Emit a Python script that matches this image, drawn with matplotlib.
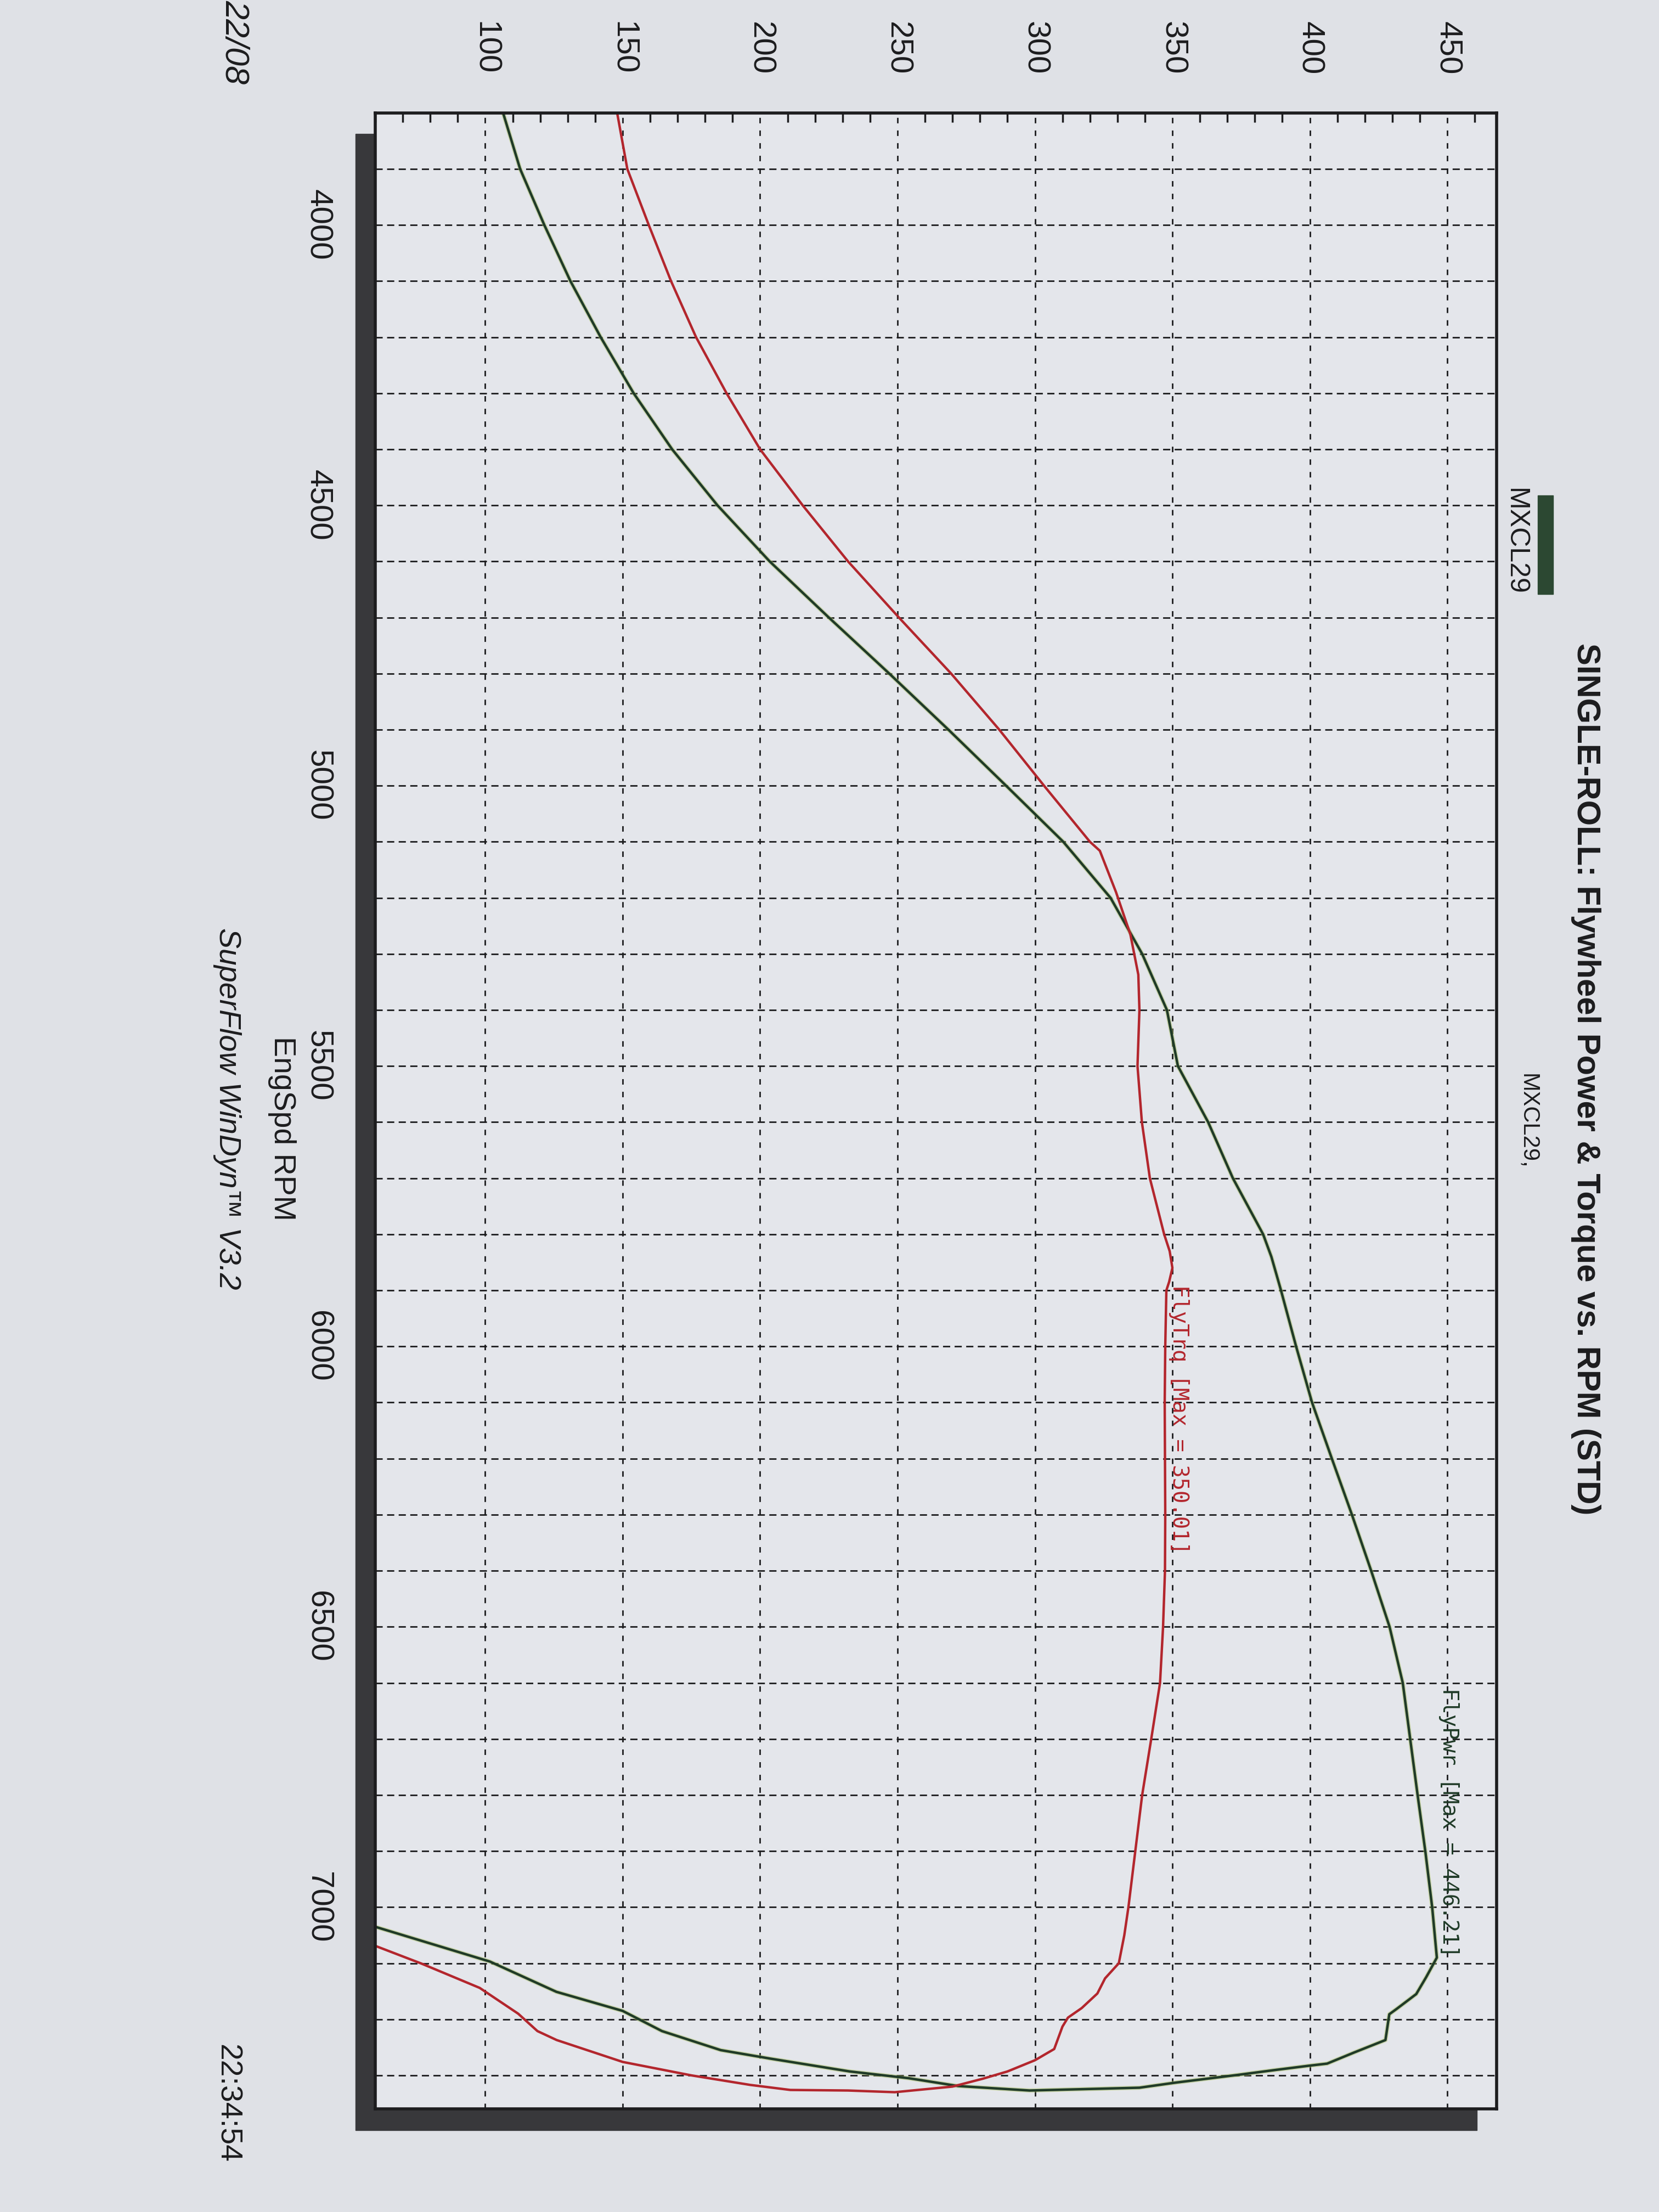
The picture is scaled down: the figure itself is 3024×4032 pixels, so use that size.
import matplotlib
matplotlib.use("Agg")
import matplotlib.pyplot as plt
from matplotlib.patches import Rectangle
from matplotlib.ticker import MultipleLocator

plt.rcParams["font.family"] = ["Liberation Sans", "DejaVu Sans"]

# Flywheel power (hp) trace; the tail is the coast-down hook
pwr_rpm = [3800, 3900, 4000, 4100, 4200, 4300, 4400, 4500, 4600, 4700, 4800, 4900,
           5000, 5100, 5200, 5300, 5400, 5500, 5600, 5700, 5800, 5840, 5900, 6000,
           6100, 6200, 6300, 6400, 6500, 6600, 6700, 6800, 6900, 7000, 7090,
           7125, 7155, 7181, 7191, 7237, 7259, 7279, 7283, 7290, 7299, 7313, 7322,
           7327, 7319, 7305, 7293, 7270, 7255, 7221, 7185, 7151, 7097, 7035]
pwr_hp = [106.5, 112.7, 121.5, 131.0, 142.0, 154.0, 168.0, 184.5, 203.5, 225.0, 247.0, 268.5,
          289.5, 310.3, 327.5, 339.0, 348.0, 352.0, 363.0, 372.0, 383.0, 386.0, 389.5, 395.0,
          400.8, 408.0, 415.3, 422.3, 429.0, 433.8, 436.5, 439.2, 442.0, 444.5, 446.2,
          442.3, 438.7, 431.7, 428.9, 427.5, 416.2, 406.3, 399.3, 388.0, 374.0, 351.0, 338.0,
          298.0, 272.0, 254.0, 232.6, 203.6, 185.7, 164.3, 150.0, 125.9, 101.7, 60.0]

# Flywheel torque (lb-ft) trace
trq_rpm = [3800, 3900, 4000, 4100, 4200, 4300, 4400, 4500, 4600, 4700, 4800, 4900,
           5000, 5100, 5116, 5190, 5265, 5337, 5400, 5500, 5600, 5700, 5800, 5830,
           5860, 5885, 5900, 6000, 6100, 6200, 6300, 6400, 6500, 6600, 6700, 6800,
           6900, 7000, 7050, 7100,
           7127, 7154, 7180, 7197, 7213, 7253, 7273, 7293, 7306, 7320, 7330, 7327,
           7326, 7317, 7300, 7276, 7237, 7221, 7190, 7144, 7101, 7069]
trq_lbft = [148.0, 151.7, 159.5, 167.6, 176.7, 187.8, 200.0, 215.5, 232.0, 250.5, 269.5, 287.0,
            303.3, 320.0, 323.6, 329.5, 334.7, 337.6, 338.0, 337.3, 338.9, 341.8, 347.0, 349.0,
            350.0, 348.8, 347.8, 347.4, 347.2, 347.3, 347.4, 347.3, 346.6, 345.5, 342.3, 339.0,
            336.5, 334.0, 332.5, 330.5,
            325.5, 322.7, 317.0, 312.0, 310.0, 307.0, 300.0, 290.0, 281.0, 270.0, 249.0, 232.0,
            211.0, 196.4, 175.0, 150.0, 126.0, 119.0, 112.0, 98.0, 77.0, 60.0]

value_ticks = [100, 150, 200, 250, 300, 350, 400, 450]
rpm_ticks = [4000, 4500, 5000, 5500, 6000, 6500, 7000]

PAPER = "#dfe1e6"
INK = "#1c1c1e"
GREEN = "#1f3a27"
RED = "#b3262d"

# the page is photographed turned a quarter clockwise, so the chart is laid out rotated:
# values run left->right, rpm runs top->bottom and all text reads downwards
W, H = 1176, 1568


def fx(px):
    return px / W


def fy(py):
    return 1 - py / H


fig = plt.figure(figsize=(30.24, 40.32), dpi=100)
fig.patch.set_facecolor(PAPER)

left, right, top, bottom = 266, 1061, 80, 1495
ax = fig.add_axes([fx(left), fy(bottom), fx(right) - fx(left), fy(top) - fy(bottom)])
ax.set_facecolor("#e4e6eb")

# drop shadow of the chart frame
fig.add_artist(Rectangle((fx(left - 14), fy(bottom + 15)), fx(right) - fx(left), fy(top) - fy(bottom),
                         transform=fig.transFigure, color="#38383b", zorder=-1))

ax.set_xlim(60, 468)
ax.set_ylim(7360, 3800)
ax.xaxis.tick_top()
ax.set_xticks(value_ticks)
ax.set_yticks(rpm_ticks)
ax.xaxis.set_minor_locator(MultipleLocator(10))
ax.yaxis.set_minor_locator(MultipleLocator(100))

ax.grid(which="both", axis="y", color=INK, lw=2, linestyle=(0, (4.7, 2.9)))
ax.grid(which="major", axis="x", color=INK, lw=2, linestyle=(0, (3.6, 4.7)))
ax.set_axisbelow(True)

ax.tick_params(axis="x", which="major", length=0, pad=50, labelsize=42, labelcolor=INK,
               top=True, bottom=False, labeltop=True, labelbottom=False, labelrotation=270)
ax.tick_params(axis="x", which="minor", length=12, width=2.5, direction="in", color=INK,
               top=True, bottom=False)
ax.tick_params(axis="y", which="both", length=0, pad=56, labelsize=42, labelcolor=INK)
for lbl in ax.get_yticklabels():
    lbl.set_rotation(270)
    lbl.set_va("center")

for sp in ax.spines.values():
    sp.set_linewidth(4)
    sp.set_color(INK)

# curves: value on the horizontal, rpm on the vertical
ax.plot(pwr_hp, pwr_rpm, color="#a9bf66", lw=5.5, alpha=0.5, solid_joinstyle="round")
ax.plot(pwr_hp, pwr_rpm, color=GREEN, lw=3.2, solid_joinstyle="round")
ax.plot(trq_lbft, trq_rpm, color=RED, lw=3.2, solid_joinstyle="round")

ax.text(446.8, 7090, "FlyPwr [Max = 446.21]", rotation=270, ha="left", va="bottom",
        color=GREEN, fontsize=28, family="DejaVu Sans Mono")
ax.text(348.6, 5890, "FlyTrq [Max = 350.01]", rotation=270, ha="left", va="top",
        color=RED, fontsize=28, family="DejaVu Sans Mono")

# titles and legend on the right (top of the page)
fig.text(fx(1124), fy(765), "SINGLE-ROLL: Flywheel Power & Torque vs. RPM (STD)", rotation=270,
         ha="center", va="center", fontsize=43, fontweight="bold", color=INK)
fig.text(fx(1083), fy(795), "MXCL29,", rotation=270, ha="center", va="center",
         fontsize=30, color=INK)
fig.text(fx(1074), fy(384), "MXCL29", rotation=270, ha="center", va="center",
         fontsize=36, color=INK)
fig.add_artist(Rectangle((fx(1090), fy(421)), fx(11), 70 / H, transform=fig.transFigure,
                         color="#2c4832"))

# footer on the left (bottom of the page)
fig.text(fx(200), fy(800), "EngSpd RPM", rotation=270, ha="center", va="center",
         fontsize=40, color=INK)
fig.text(fx(161), fy(786), "SuperFlow WinDyn\u2122 V3.2", rotation=270, ha="center", va="center",
         fontsize=40, style="italic", color=INK)
fig.text(fx(166), 1.0, "22/08", rotation=270, ha="center", va="top",
         fontsize=44, style="italic", color=INK)
fig.text(fx(161), fy(1491), "22:34:54", rotation=270, ha="center", va="center",
         fontsize=40, color=INK)

fig.savefig("out.png", dpi=100, facecolor=PAPER)
